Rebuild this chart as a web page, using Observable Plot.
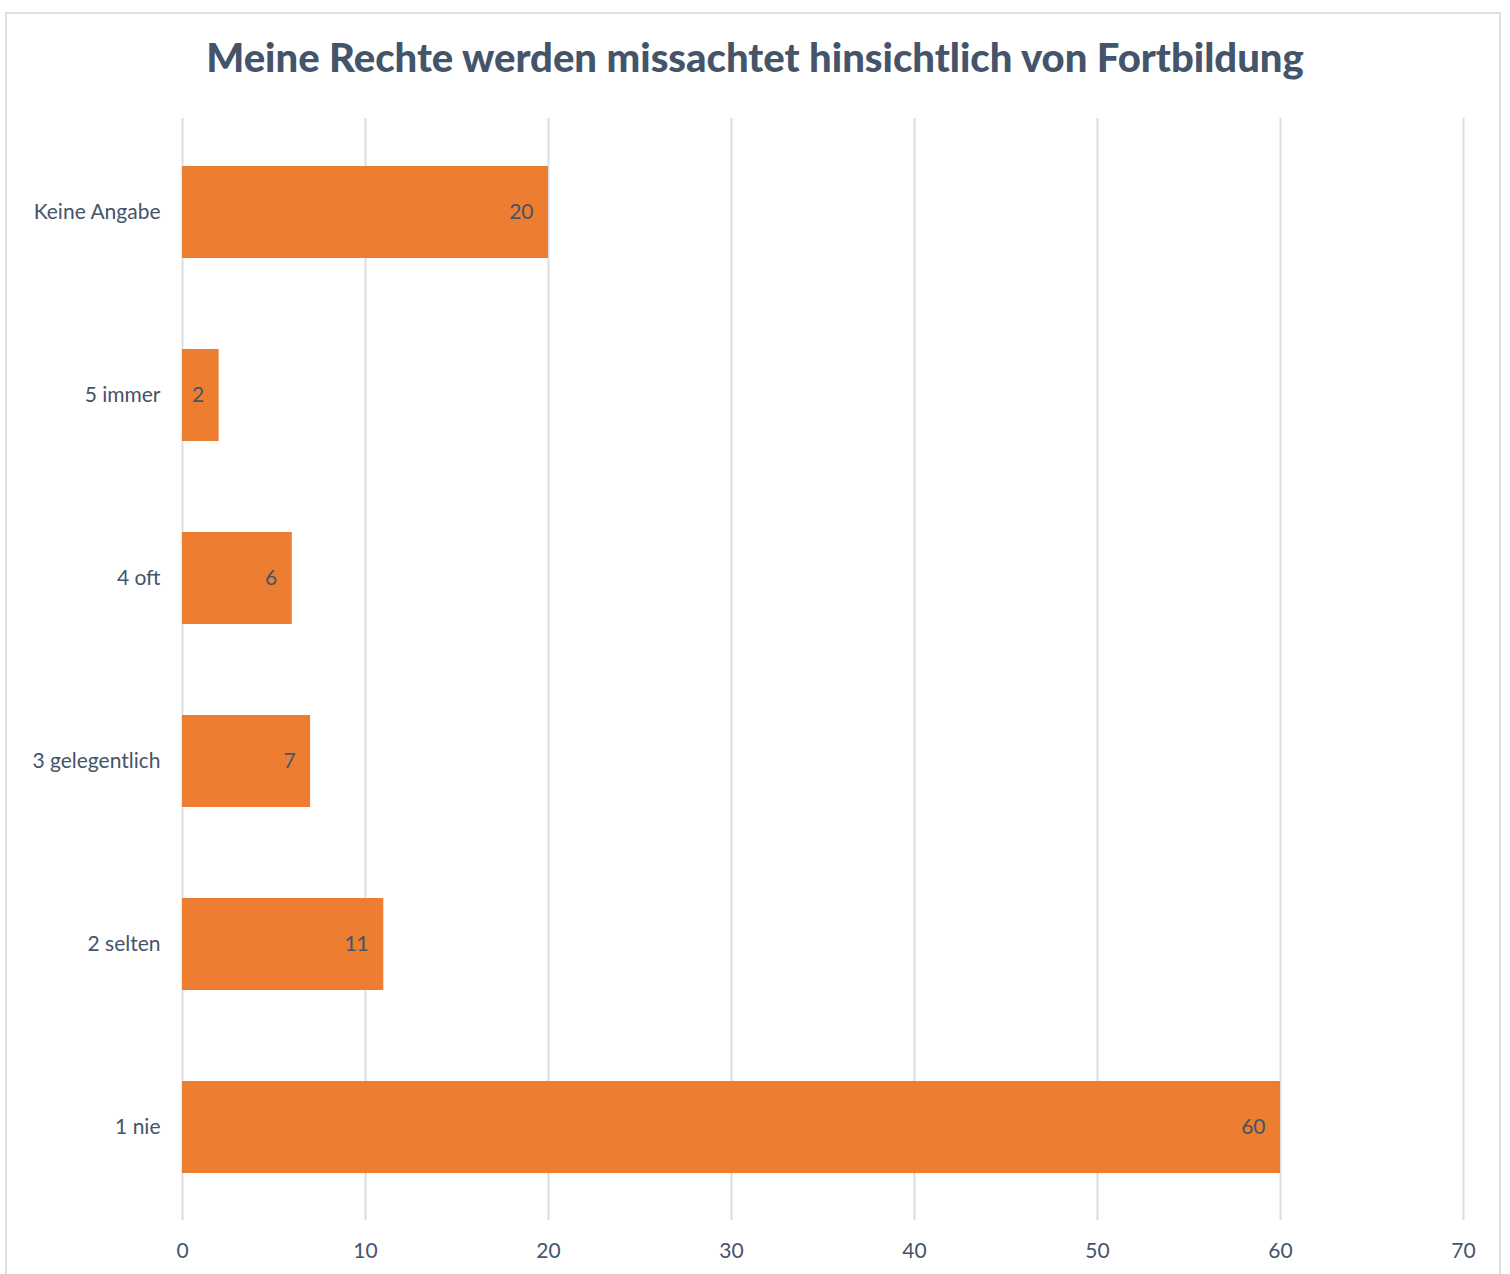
<!DOCTYPE html>
<html>
<head>
<meta charset="utf-8">
<script src="https://cdn.jsdelivr.net/npm/d3@7"></script>
<script src="https://cdn.jsdelivr.net/npm/@observablehq/plot@0.6"></script>
<style>
  html, body { margin: 0; padding: 0; background: #fff; }
  #wrap { position: relative; width: 1510px; height: 1274px; overflow: hidden; font-family: Lato, "Open Sans", sans-serif; }
  #frame { position: absolute; left: 5px; top: 12px; width: 1496px; height: 1300px; border: 2px solid #DCDFE4; box-sizing: border-box; }
  #title { position: absolute; left: 0; top: 33px; width: 1510px; text-align: center; font-size: 40px; font-weight: 900; color: #44546A; }
  #chart { position: absolute; left: 0; top: 0; }
</style>
</head>
<body>
<div id="wrap">
  <div id="frame"></div>
  <div id="chart"></div>
  <div id="title">Meine Rechte werden missachtet hinsichtlich von Fortbildung</div>
</div>
<script>
const categories = ["Keine Angabe", "5 immer", "4 oft", "3 gelegentlich", "2 selten", "1 nie"];
const values = [20, 2, 6, 7, 11, 60];
const xTicks = [0, 10, 20, 30, 40, 50, 60, 70];

const data = categories.map((c, i) => ({category: c, value: values[i]}));
const textColor = "#44546A";

const plot = Plot.plot({
  width: 1510,
  height: 1274,
  marginTop: 118,
  marginBottom: 54,
  marginLeft: 182,
  marginRight: 47,
  style: {fontFamily: "Lato, 'Open Sans', sans-serif", background: "transparent"},
  x: {domain: [0, 70], ticks: xTicks, label: null},
  y: {domain: categories, paddingInner: 0.5, paddingOuter: 0.25, label: null},
  marks: [
    Plot.ruleX(xTicks, {stroke: "#D9DEE6", strokeWidth: 2, strokeOpacity: 1}),
    Plot.barX(data, {x: "value", y: "category", fill: "#ED7D31"}),
    Plot.text(data, {x: "value", y: "category", text: d => String(d.value), textAnchor: "end", dx: -15, dy: 0, fill: textColor, fontSize: 21}),
    Plot.axisX(xTicks, {anchor: "bottom", tickSize: 0, tickPadding: 23, fontSize: 21, fill: textColor, label: null}),
    Plot.axisY({anchor: "left", tickSize: 0, tickPadding: 22, fontSize: 21, fill: textColor, label: null, style: {letterSpacing: "0.5px"}})
  ]
});
document.getElementById("chart").appendChild(plot);
</script>
</body>
</html>
